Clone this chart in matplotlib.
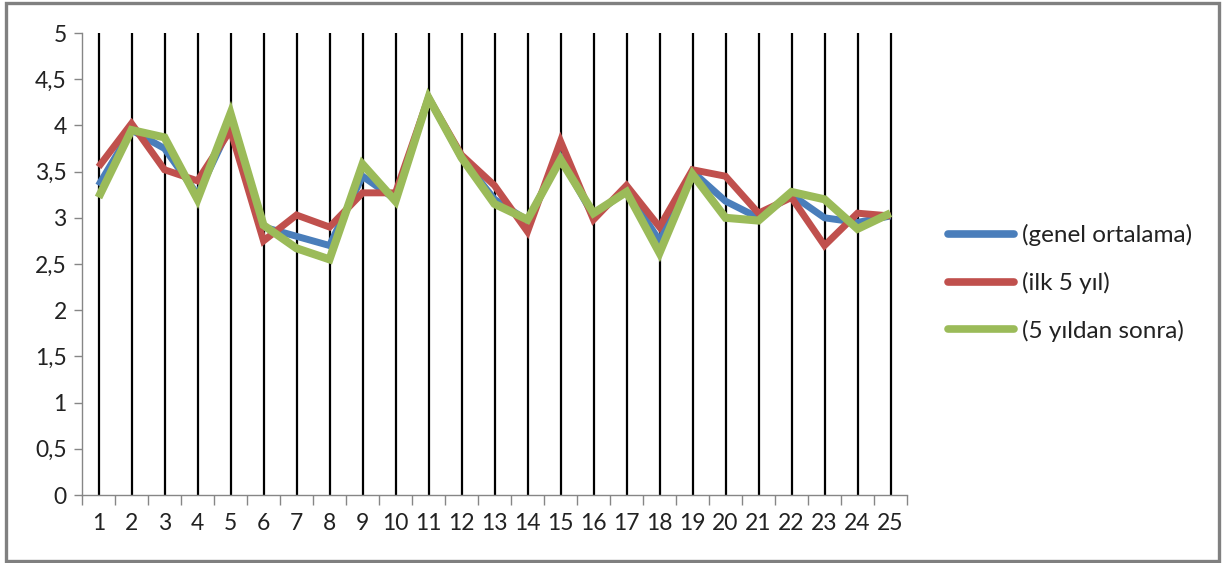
import matplotlib
matplotlib.use("Agg")
from matplotlib import pyplot as plt
from matplotlib.patches import Rectangle

plt.rcParams["font.family"] = ["Lato", "DejaVu Sans"]

# question numbers 1..25
questions = list(range(1, 26))

genel = [3.35, 3.95, 3.75, 3.25, 4.00, 2.90, 2.80, 2.70, 3.45, 3.20,
         4.30, 3.65, 3.20, 2.97, 3.65, 3.02, 3.30, 2.75, 3.50, 3.18,
         3.00, 3.25, 3.00, 2.95, 3.02]
ilk5 = [3.55, 4.02, 3.52, 3.40, 3.95, 2.75, 3.03, 2.90, 3.27, 3.27,
        4.30, 3.68, 3.35, 2.85, 3.83, 2.98, 3.35, 2.90, 3.52, 3.45,
        3.05, 3.22, 2.70, 3.05, 3.02]
sonra5 = [3.22, 3.95, 3.87, 3.20, 4.13, 2.92, 2.67, 2.55, 3.58, 3.18,
          4.30, 3.65, 3.15, 2.98, 3.63, 3.05, 3.28, 2.62, 3.47, 3.00,
          2.97, 3.28, 3.20, 2.88, 3.05]

labels = ["(genel ortalama)", "(ilk 5 yıl)", "(5 yıldan sonra)"]
colors = ["#4A7EBB", "#C0504D", "#9BBB59"]
yticks = [0, 0.5, 1, 1.5, 2, 2.5, 3, 3.5, 4, 4.5, 5]

W, H = 1226, 563
fig = plt.figure(figsize=(W / 100, H / 100), dpi=100)
fig.set_facecolor("white")
ax = fig.add_axes([82 / W, 1 - 495 / H, (907 - 82) / W, (495 - 33) / H])

# black vertical drop lines at each category
ax.vlines(questions, 0, 5, color="black", lw=1.6, zorder=1)

for vals, lab, col, lw in zip([genel, ilk5, sonra5], labels, colors, [5, 5, 5.8]):
    ax.plot(questions, vals, color=col, lw=lw, label=lab,
            solid_joinstyle="miter", solid_capstyle="butt", zorder=3)

ax.set_xlim(0.5, 25.5)
ax.set_ylim(0, 5)

gray = "#868686"
for s in ["top", "right"]:
    ax.spines[s].set_visible(False)
for s in ["left", "bottom"]:
    ax.spines[s].set_color(gray)
    ax.spines[s].set_linewidth(1.0)

ax.set_yticks(yticks)
ax.set_yticklabels([str(v).replace(".", ",") if v % 1 else str(int(v)) for v in yticks])
ax.set_xticks(questions)
ax.set_xticklabels([str(q) for q in questions])
ax.tick_params(axis="x", length=0, pad=13, labelsize=16.5, colors="#222222")
ax.tick_params(axis="y", length=6, width=1, color=gray, pad=5, labelsize=16.5,
               labelcolor="#222222")
ax.set_xticks([q + 0.5 for q in [0] + questions], minor=True)
ax.tick_params(axis="x", which="minor", length=7, width=1, color=gray, direction="out")

leg = fig.legend(loc="center left", bbox_to_anchor=(926 / W, 1 - 283 / H),
                 frameon=False, fontsize=17.5, handlelength=2.7,
                 handletextpad=0.35, labelspacing=1.05, labelcolor="#222222")
for line in leg.get_lines():
    line.set_linewidth(5.5)
    line.set_solid_capstyle("round")

# outer chart frame
fig.patches.append(Rectangle((6 / W, 1 - 561 / H), (1219 - 6) / W, (561 - 3) / H,
                             transform=fig.transFigure, fill=False,
                             edgecolor="#808080", lw=2.4))

fig.savefig("out.png", dpi=100, facecolor="white")
